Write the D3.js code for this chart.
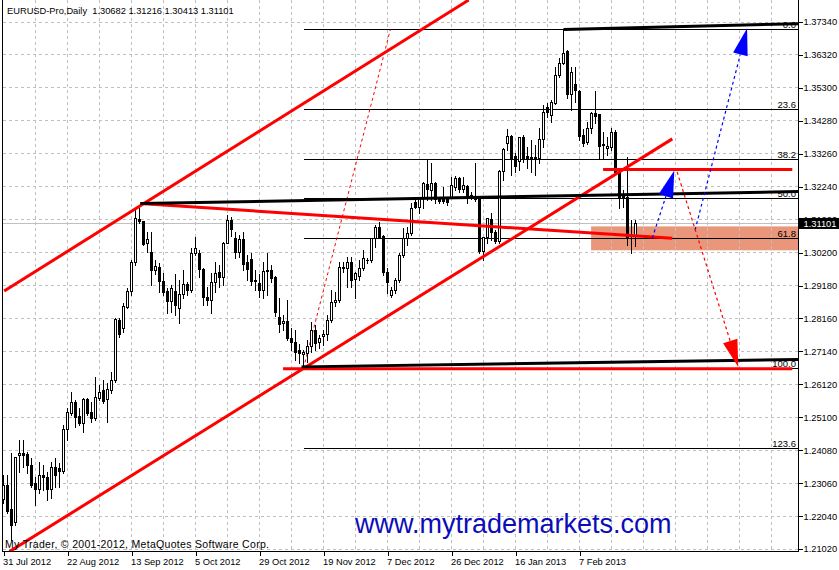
<!DOCTYPE html>
<html><head><meta charset="utf-8">
<script src="https://cdn.jsdelivr.net/npm/d3@7"></script>
<style>
html,body{margin:0;padding:0;background:#fff;}
svg{display:block;}
text{font-family:"Liberation Sans",Arial,sans-serif;}
</style>
</head><body>
<svg id="c" width="839" height="570"></svg>
<script>
// ---------------- DATA ----------------
const symbol = "EURUSD-Pro,Daily";
const lastQuote = [1.30682, 1.31216, 1.30413, 1.31101];
const copyright = "My Trader, \u00A9 2001-2012, MetaQuotes Software Corp.";
const website = "www.mytrademarkets.com";

const dateLabels = ["31 Jul 2012","22 Aug 2012","13 Sep 2012","5 Oct 2012","29 Oct 2012","19 Nov 2012","7 Dec 2012","26 Dec 2012","16 Jan 2013","7 Feb 2013"];
const dateIndex = [0,16,32,48,64,80,96,112,128,144];
const gridIndex = d3.range(8, 200, 8);
const priceTicks = [1.37340,1.36320,1.35300,1.34280,1.33260,1.32240,1.31220,1.30200,1.29180,1.28160,1.27140,1.26120,1.25100,1.24080,1.23060,1.22040,1.21020];

const opens = [1.2254,1.2300,1.2223,1.2183,1.2393,1.2399,1.2396,1.2362,1.2306,1.2285,1.2331,1.2322,1.2285,1.2353,1.2350,1.2341,1.2471,1.2523,1.2557,1.2511,
1.2492,1.2564,1.2526,1.2505,1.2569,1.2594,1.2564,1.2594,1.2625,1.2811,1.2786,1.2851,1.2898,1.2988,1.3121,1.3115,1.3049,1.3019,1.2963,1.2975,
1.2929,1.2898,1.2867,1.2898,1.2848,1.2889,1.2920,1.2904,1.3016,1.3016,1.2966,1.2882,1.2873,1.2926,1.2957,1.2944,1.3049,1.3118,1.3065,1.3019,
1.3059,1.2988,1.2997,1.2935,1.2923,1.2904,1.2960,1.2963,1.2944,1.2820,1.2799,1.2805,1.2755,1.2740,1.2718,1.2703,1.2706,1.2728,1.2780,1.2740,
1.2759,1.2765,1.2811,1.2864,1.2873,1.2975,1.2972,1.2988,1.2938,1.2947,1.2972,1.2994,1.2994,1.3062,1.3099,1.3071,1.2957,1.2886,1.2904,1.2935,
1.3012,1.3062,1.3078,1.3174,1.3161,1.3189,1.3232,1.3211,1.3235,1.3183,1.3183,1.3183,1.3192,1.3223,1.3248,1.3214,1.3226,1.3192,1.3192,1.3186,
1.3022,1.3068,1.3121,1.3081,1.3053,1.3270,1.3359,1.3378,1.3316,1.3301,1.3375,1.3316,1.3313,1.3310,1.3310,1.3369,1.3468,1.3443,1.3483,1.3567,
1.3607,1.3644,1.3511,1.3539,1.3520,1.3384,1.3362,1.3403,1.3452,1.3446,1.3350,1.3341,1.3344,1.3393,1.3270,1.3195,1.3192,1.3065,1.30682];
const highs = [1.2331,1.2331,1.2399,1.2387,1.2440,1.2440,1.2402,1.2384,1.2325,1.2371,1.2362,1.2341,1.2371,1.2384,1.2368,1.2486,1.2539,1.2588,1.2564,1.2539,
1.2569,1.2569,1.2557,1.2635,1.2610,1.2625,1.2616,1.2650,1.2817,1.2817,1.2864,1.2910,1.2997,1.3158,1.3158,1.3118,1.3084,1.3084,1.2997,1.2988,
1.2957,1.2910,1.2920,1.2954,1.2935,1.2966,1.2929,1.3034,1.3068,1.3028,1.2972,1.2913,1.2957,1.2991,1.2982,1.3052,1.3136,1.3130,1.3084,1.3074,
1.3084,1.3012,1.3019,1.2966,1.2954,1.2991,1.3019,1.2982,1.2947,1.2879,1.2827,1.2873,1.2786,1.2780,1.2737,1.2718,1.2749,1.2805,1.2796,1.2765,
1.2780,1.2827,1.2904,1.2898,1.2991,1.2991,1.3006,1.3006,1.2960,1.2997,1.3028,1.3003,1.3065,1.3105,1.3115,1.3074,1.2972,1.2913,1.2941,1.3019,
1.3096,1.3099,1.3174,1.3183,1.3192,1.3238,1.3307,1.3297,1.3238,1.3192,1.3223,1.3192,1.3254,1.3257,1.3254,1.3254,1.3229,1.3208,1.3297,1.3189,
1.3068,1.3127,1.3143,1.3090,1.3276,1.3344,1.3403,1.3384,1.3328,1.3378,1.3384,1.3347,1.3369,1.3353,1.3406,1.3477,1.3483,1.3492,1.3596,1.3622,
1.3709,1.3647,1.3595,1.3595,1.3523,1.3403,1.3424,1.3455,1.3520,1.3449,1.3393,1.3378,1.3406,1.3399,1.3276,1.3214,1.3316,1.3121,1.31216];
const lows = [1.2245,1.2214,1.2130,1.2176,1.2341,1.2356,1.2338,1.2294,1.2238,1.2275,1.2285,1.2254,1.2260,1.2294,1.2294,1.2338,1.2440,1.2517,1.2480,1.2486,
1.2464,1.2517,1.2495,1.2502,1.2564,1.2554,1.2495,1.2585,1.2619,1.2759,1.2774,1.2848,1.2889,1.2982,1.3112,1.3043,1.3022,1.2920,1.2954,1.2898,
1.2889,1.2833,1.2836,1.2827,1.2802,1.2879,1.2889,1.2898,1.3012,1.2944,1.2857,1.2857,1.2833,1.2898,1.2913,1.2920,1.3049,1.3071,1.3003,1.3006,
1.2966,1.2935,1.2920,1.2904,1.2882,1.2879,1.2889,1.2929,1.2824,1.2774,1.2780,1.2749,1.2718,1.2687,1.2678,1.2663,1.2681,1.2712,1.2718,1.2725,
1.2734,1.2749,1.2805,1.2854,1.2867,1.2960,1.2913,1.2913,1.2879,1.2935,1.2966,1.2988,1.2991,1.3037,1.3065,1.2951,1.2895,1.2882,1.2895,1.2929,
1.3006,1.3043,1.3074,1.3158,1.3143,1.3158,1.3183,1.3183,1.3174,1.3174,1.3174,1.3167,1.3189,1.3214,1.3208,1.3208,1.3174,1.3186,1.3180,1.3019,
1.2997,1.3049,1.3059,1.3049,1.3049,1.3245,1.3338,1.3260,1.3270,1.3276,1.3301,1.3282,1.3270,1.3260,1.3297,1.3347,1.3440,1.3424,1.3480,1.3564,
1.3604,1.3499,1.3462,1.3486,1.3369,1.3350,1.3356,1.3390,1.3421,1.3313,1.3313,1.3322,1.3338,1.3267,1.3158,1.3161,1.3043,1.3019,1.30413];
const closes = [1.2300,1.2217,1.2176,1.2384,1.2399,1.2393,1.2362,1.2300,1.2285,1.2331,1.2322,1.2285,1.2353,1.2331,1.2341,1.2471,1.2526,1.2557,1.2508,1.2492,
1.2564,1.2523,1.2505,1.2572,1.2588,1.2560,1.2597,1.2625,1.2814,1.2765,1.2854,1.2898,1.2988,1.3127,1.3115,1.3046,1.3059,1.2963,1.2978,1.2929,
1.2895,1.2867,1.2910,1.2857,1.2889,1.2920,1.2904,1.3016,1.3034,1.2966,1.2882,1.2873,1.2926,1.2954,1.2944,1.3049,1.3118,1.3090,1.3019,1.3059,
1.2982,1.2969,1.2929,1.2929,1.2904,1.2960,1.2963,1.2941,1.2833,1.2796,1.2805,1.2755,1.2740,1.2709,1.2706,1.2709,1.2728,1.2780,1.2737,1.2755,
1.2765,1.2811,1.2864,1.2873,1.2975,1.2972,1.2988,1.2935,1.2954,1.2972,1.3003,1.2996,1.3062,1.3099,1.3068,1.2957,1.2926,1.2904,1.2935,1.3012,
1.3065,1.3078,1.3155,1.3161,1.3189,1.3235,1.3214,1.3235,1.3183,1.3177,1.3177,1.3174,1.3229,1.3248,1.3214,1.3229,1.3192,1.3198,1.3183,1.3022,
1.3068,1.3124,1.3081,1.3053,1.3270,1.3338,1.3378,1.3310,1.3285,1.3375,1.3310,1.3310,1.3310,1.3313,1.3369,1.3455,1.3455,1.3486,1.3567,1.3607,
1.3638,1.3508,1.3579,1.3523,1.3378,1.3359,1.3403,1.3452,1.3440,1.3347,1.3356,1.3347,1.3393,1.3267,1.3192,1.3189,1.3062,1.3062,1.31101];

// Fibonacci retracement (bar index, price)
const fibFrom = [75, 1.2662];
const fibTo = [96.7, 1.3710];
const fibLevels = [0, 23.6, 38.2, 50.0, 61.8, 100.0, 123.6];

// trend objects in (bar index, price)
const redTrendLines = [
  [[0.175, 1.2901], [116.3, 1.3802]],
  [[1.5, 1.2094], [167.2, 1.3372]],
  [[34.2, 1.3172], [167.2, 1.3064]],
  [[149.9, 1.3277], [197.2, 1.3277]],
  [[69.9, 1.2660], [197.2, 1.2660]]
];
const blackTrendLines = [
  [[34.2, 1.3172], [199, 1.3209]],
  [[74.5, 1.2666], [199, 1.2689]],
  [[140, 1.3711], [199, 1.3729]]
];
const zone = [[146.9, 1.3101], [200, 1.3027]];
const blueArrows = [
  [[162.2, 1.3065], [167.7, 1.3274]],
  [[172.9, 1.3090], [185.9, 1.3715]]
];
const redArrows = [
  [[168.4, 1.3270], [183.7, 1.2666]]
];

// ---------------- DRAW ----------------
const svg = d3.select("#c");
const L = 2.5, R = 798.5, B = 551.5;
const x = d3.scaleLinear().domain([0, 1]).range([3.5, 7.5]);
const y = d3.scaleLinear().domain([1.21020, 1.37340]).range([549, 22]);
const snap = v => Math.round(v) + 0.5;
const FONT = "Liberation Sans, Arial, sans-serif";

svg.append("rect").attr("width", 839).attr("height", 570).attr("fill", "#fff");
svg.append("defs").append("clipPath").attr("id", "plot")
  .append("rect").attr("x", 3).attr("y", 0).attr("width", 795).attr("height", 551);
const g = svg.append("g").attr("clip-path", "url(#plot)");

// zone rectangle
g.append("rect")
  .attr("x", x(zone[0][0])).attr("y", y(zone[0][1]))
  .attr("width", x(zone[1][0]) - x(zone[0][0]))
  .attr("height", y(zone[1][1]) - y(zone[0][1]))
  .attr("fill", "#e9967a");

// grid
const grid = g.append("g").attr("stroke", "#c0c0c0").attr("stroke-dasharray", "3,3")
  .attr("shape-rendering", "crispEdges");
priceTicks.forEach(t => grid.append("line").attr("x1", L).attr("x2", R)
  .attr("y1", snap(y(t) - 0.5)).attr("y2", snap(y(t) - 0.5)));
gridIndex.forEach(i => grid.append("line").attr("x1", x(i)).attr("x2", x(i))
  .attr("y1", 0).attr("y2", B));

// bid line
const lastClose = closes[closes.length - 1];
g.append("line").attr("x1", L).attr("x2", R)
  .attr("y1", snap(y(lastClose) - 0.5)).attr("y2", snap(y(lastClose) - 0.5))
  .attr("stroke", "#c0c0c0").attr("shape-rendering", "crispEdges");

// fibonacci
const fibHigh = fibTo[1], fibLow = fibFrom[1];
const fg = g.append("g");
fibLevels.forEach(lv => {
  const p = fibHigh - lv / 100 * (fibHigh - fibLow);
  const yy = snap(y(p) - 0.5);
  fg.append("line").attr("x1", x(fibFrom[0])).attr("x2", R).attr("y1", yy).attr("y2", yy)
    .attr("stroke", "#000").attr("shape-rendering", "crispEdges");
  fg.append("text").attr("x", 796).attr("y", yy - 2).attr("text-anchor", "end")
    .attr("font-size", 9.5).attr("fill", "#000").text(lv.toFixed(1));
});
fg.append("line")
  .attr("x1", x(fibFrom[0])).attr("y1", y(fibFrom[1]))
  .attr("x2", x(fibTo[0])).attr("y2", y(fibTo[1]))
  .attr("stroke", "#ff0000").attr("stroke-dasharray", "3,3");

// candles
const cg = g.append("g").attr("shape-rendering", "crispEdges");
opens.forEach((o, i) => {
  const c = closes[i], h = highs[i], l = lows[i];
  const cx = x(i);
  cg.append("line").attr("x1", cx).attr("x2", cx)
    .attr("y1", Math.round(y(h))).attr("y2", Math.round(y(l)) + 1).attr("stroke", "#000");
  const top = snap(y(Math.max(o, c)) - 0.5), bot = snap(y(Math.min(o, c)) - 0.5);
  if (bot - top < 1) {
    cg.append("line").attr("x1", cx - 1.5).attr("x2", cx + 1.5).attr("y1", top).attr("y2", top).attr("stroke", "#000");
  } else {
    cg.append("rect").attr("x", cx - 1).attr("y", top).attr("width", 2).attr("height", bot - top)
      .attr("fill", c >= o ? "#fff" : "#000").attr("stroke", "#000");
  }
});

// trend lines
const line = d3.line().x(d => x(d[0])).y(d => y(d[1]));
redTrendLines.forEach(s => g.append("path").attr("d", line(s)).attr("fill", "none")
  .attr("stroke", "#ff0000").attr("stroke-width", 3));
blackTrendLines.forEach(s => g.append("path").attr("d", line(s)).attr("fill", "none")
  .attr("stroke", "#000").attr("stroke-width", 3));

// dotted arrows
function arrow(s, color) {
  const x1 = x(s[0][0]), y1 = y(s[0][1]), x2 = x(s[1][0]), y2 = y(s[1][1]);
  const dx = x2 - x1, dy = y2 - y1, len = Math.hypot(dx, dy);
  const ux = dx / len, uy = dy / len, hl = 27, hw = 7.5;
  const bx = x2 - ux * hl, by = y2 - uy * hl;
  g.append("line").attr("x1", x1).attr("y1", y1).attr("x2", bx).attr("y2", by)
    .attr("stroke", color).attr("stroke-width", 1.2).attr("stroke-dasharray", "3,3");
  g.append("path").attr("d", `M${x2},${y2}L${bx - uy * hw},${by + ux * hw}L${bx + uy * hw},${by - ux * hw}Z`)
    .attr("fill", color);
}
blueArrows.forEach(s => arrow(s, "#0000ff"));
redArrows.forEach(s => arrow(s, "#ff0000"));

// frame
const fr = svg.append("g").attr("stroke", "#000").attr("shape-rendering", "crispEdges");
fr.append("line").attr("x1", L).attr("x2", L).attr("y1", 0).attr("y2", B);
fr.append("line").attr("x1", R).attr("x2", R).attr("y1", 0).attr("y2", B);
fr.append("line").attr("x1", L).attr("x2", R).attr("y1", B).attr("y2", B);

// price axis
const ya = svg.append("g").attr("transform", `translate(${R},0)`)
  .call(d3.axisRight(y).tickValues(priceTicks).tickFormat(d3.format(".5f")).tickSize(4).tickPadding(1));
ya.select(".domain").remove();
ya.selectAll("text").attr("font-size", 9.3).attr("font-family", FONT).attr("fill", "#000");
ya.selectAll("line").attr("shape-rendering", "crispEdges");

// current price marker (covers the tick label underneath, as in the terminal)
const cy = y(lastClose);
svg.append("rect").attr("x", 799).attr("y", cy - 5.5).attr("width", 40).attr("height", 11).attr("fill", "#000");
svg.append("text").attr("x", 803.5).attr("y", cy + 3.3).attr("font-size", 9.3).attr("font-family", FONT).attr("fill", "#fff")
  .text(lastClose.toFixed(5));

// time axis
const xa = svg.append("g").attr("transform", `translate(0,${B})`)
  .call(d3.axisBottom(x).tickValues(dateIndex).tickFormat((d, i) => dateLabels[i]).tickSize(4).tickPadding(3));
xa.select(".domain").remove();
xa.selectAll("text").attr("font-size", 9.3).attr("font-family", FONT)
  .attr("text-anchor", "start").attr("x", -1).attr("fill", "#000");
xa.selectAll("line").attr("shape-rendering", "crispEdges");

// texts
svg.append("text").attr("x", 7).attr("y", 14).attr("font-size", 9.3).attr("fill", "#000")
  .attr("xml:space", "preserve")
  .text(symbol + "  " + lastQuote.map(v => v.toFixed(5)).join(" "));
svg.append("text").attr("x", 5).attr("y", 548).attr("font-size", 10.5).attr("fill", "#000")
  .attr("textLength", 264).attr("lengthAdjust", "spacing").text(copyright);
svg.append("text").attr("x", 355).attr("y", 533).attr("font-size", 27).attr("fill", "#0c0cb8").text(website);
</script>
</body></html>
